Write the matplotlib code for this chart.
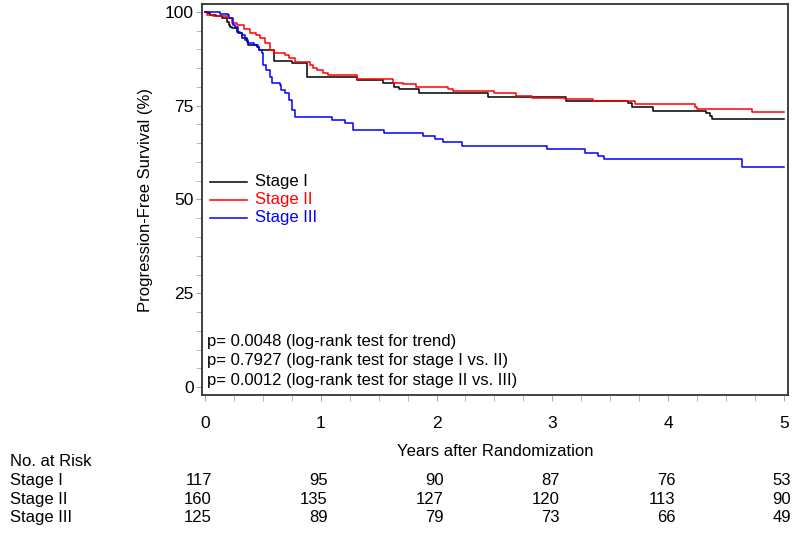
import matplotlib
matplotlib.use("Agg")
import matplotlib.pyplot as plt
from matplotlib.ticker import MultipleLocator
from matplotlib.transforms import blended_transform_factory

plt.rcParams['font.family'] = ['Liberation Sans', 'DejaVu Sans']

# Kaplan-Meier steps (years, % progression-free)
t_stage1 = [0, 0.03, 0.04, 0.1, 0.15, 0.19, 0.21, 0.22, 0.23, 0.28, 0.3, 0.32, 0.36, 0.37,
            0.45, 0.47, 0.6, 0.75, 0.88, 1.31, 1.54, 1.63, 1.68, 1.85, 2.44, 3.12, 3.65,
            3.69, 3.87, 4.33, 4.36, 4.38, 5.0]
s_stage1 = [100, 99.8, 99.2, 98.8, 98.3, 97.4, 96.5, 96.1, 95.6, 94.7, 94.3, 93.0, 92.1, 91.2,
            90.7, 89.9, 86.9, 86.3, 82.7, 81.9, 81.0, 80.1, 79.4, 78.3, 77.4, 76.3, 75.8,
            74.7, 73.7, 73.0, 72.3, 71.5, 71.5]

t_stage2 = [0, 0.02, 0.07, 0.19, 0.23, 0.28, 0.34, 0.39, 0.44, 0.48, 0.52, 0.56, 0.6, 0.69,
            0.73, 0.78, 0.91, 0.93, 0.97, 1.02, 1.06, 1.31, 1.62, 1.71, 1.82, 2.1, 2.14, 2.5,
            2.69, 2.82, 3.11, 3.35, 3.71, 4.23, 4.25, 4.72, 5.0]
s_stage2 = [100, 99.2, 98.8, 98.3, 97.0, 96.5, 95.5, 94.5, 93.9, 93.0, 91.7, 89.9, 89.0, 88.5,
            87.7, 86.7, 85.9, 85.0, 84.5, 83.7, 83.2, 82.0, 81.1, 80.7, 80.1, 79.4, 78.8, 78.3,
            77.6, 77.0, 76.8, 76.3, 75.5, 74.7, 74.1, 73.2, 73.2]

t_stage3 = [0, 0.13, 0.2, 0.21, 0.24, 0.26, 0.29, 0.32, 0.35, 0.37, 0.42, 0.46, 0.47, 0.49,
            0.5, 0.53, 0.56, 0.58, 0.65, 0.66, 0.69, 0.73, 0.75, 0.78, 1.1, 1.21, 1.28, 1.55,
            1.88, 1.99, 2.06, 2.22, 2.95, 3.28, 3.39, 3.45, 4.64, 5.0]
s_stage3 = [100, 99.5, 99.2, 98.3, 96.5, 96.1, 94.4, 93.9, 92.5, 91.7, 91.2, 90.7, 89.9, 89.0,
            85.9, 84.5, 82.7, 81.0, 80.5, 79.2, 78.4, 76.5, 73.9, 72.0, 71.2, 70.3, 68.5, 67.8,
            66.9, 66.0, 65.2, 64.3, 63.4, 62.5, 61.6, 60.7, 58.6, 58.6]

labels = ["Stage I", "Stage II", "Stage III"]
colors = ["black", "red", "blue"]

p_texts = ["p= 0.0048 (log-rank test for trend)",
           "p= 0.7927 (log-rank test for stage I vs. II)",
           "p= 0.0012 (log-rank test for stage II vs. III)"]

risk_years = [0, 1, 2, 3, 4, 5]
risk_stage1 = [117, 95, 90, 87, 76, 53]
risk_stage2 = [160, 135, 127, 120, 113, 90]
risk_stage3 = [125, 89, 79, 73, 66, 49]

fig = plt.figure(figsize=(8, 5.34), dpi=100)
ax = fig.add_axes([0.252, 0.2603, 0.733, 0.732])

curves = [(t_stage1, s_stage1), (t_stage2, s_stage2), (t_stage3, s_stage3)]
for (t, s), c in zip(curves, colors):
    ax.step(t, s, where='post', color=c, lw=1.1)

ax.set_xlim(-0.0285, 5.0345)
ax.set_ylim(-2.13, 102.1)
ax.xaxis.set_major_locator(MultipleLocator(1))
ax.xaxis.set_minor_locator(MultipleLocator(0.25))
ax.yaxis.set_major_locator(MultipleLocator(25))
ax.yaxis.set_minor_locator(MultipleLocator(5))
ax.tick_params(axis='x', which='both', length=4, color='#aaaaaa', pad=11, labelsize=12.5)
ax.tick_params(axis='y', which='both', length=4, color='#aaaaaa', pad=1.5, labelsize=12.5)
for sp in ax.spines.values():
    sp.set_color('#333333')
    sp.set_linewidth(1.3)

ax.set_ylabel("Progression-Free Survival (%)", fontsize=12)
ax.yaxis.set_label_coords(-0.083, 0.5)
fig.text(0.6185, 0.1554, "Years after Randomization", ha='center', va='center', fontsize=12)

# legend drawn by hand to match the placement
leg_y = [0.545, 0.499, 0.453]
for lab, c, y in zip(labels, colors, leg_y):
    ax.plot([0.0142, 0.0773], [y, y], color=c, lw=1.1, transform=ax.transAxes)
    ax.text(0.091, y, lab, color=c, fontsize=12, va='center', transform=ax.transAxes)

for txt, y in zip(p_texts, [0.138, 0.087, 0.036]):
    ax.text(0.009, y, txt, fontsize=12, va='center', transform=ax.transAxes)

# number at risk table
trans = blended_transform_factory(ax.transData, fig.transFigure)
fig.text(0.0125, 0.1367, "No. at Risk", fontsize=12, va='center')
rows = [risk_stage1, risk_stage2, risk_stage3]
for lab, vals, y in zip(labels, rows, [0.1011, 0.0655, 0.0303]):
    fig.text(0.0125, y, lab, fontsize=12, va='center')
    for yr, v in zip(risk_years, vals):
        ax.text(yr + 0.06, y, str(v), fontsize=12, ha='right', va='center',
                transform=trans, clip_on=False)

fig.savefig("out.png", dpi=100)
